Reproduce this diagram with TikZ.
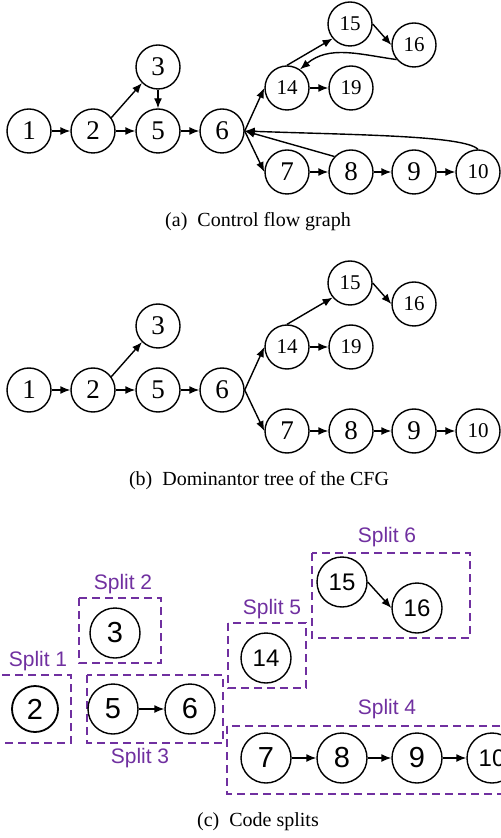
\documentclass[tikz,border=0pt]{standalone}
\usepackage{fontspec}
\setmainfont{Liberation Serif}
\setsansfont{Liberation Sans}
\usetikzlibrary{arrows.meta}
\definecolor{splitpurple}{HTML}{7030A0}
\begin{document}
\begin{tikzpicture}[x=0.5pt,y=-0.5pt,
  vtx/.style={circle,draw,line width=0.7pt,minimum size=22pt,inner sep=0pt,font=\fontsize{13.5}{14}\selectfont},
  vtxs/.style={vtx,font=\fontsize{10.5}{12}\selectfont},
  svtx/.style={circle,draw,line width=0.7pt,minimum size=25pt,inner sep=0pt,font=\sffamily\fontsize{14.5}{16}\selectfont},
  svtxs/.style={svtx,font=\sffamily\fontsize{12}{14}\selectfont},
  arr/.style={-{Latex[length=5pt,width=4pt]},line width=0.7pt},
  splitbox/.style={draw=splitpurple,dash pattern=on 4pt off 2.5pt,line width=0.75pt},
  splitlbl/.style={text=splitpurple,font=\sffamily\fontsize{10.5}{12}\selectfont},
  captext/.style={font=\fontsize{10}{12}\selectfont}
]
\useasboundingbox (0,0) rectangle (500,838);

% ---------- (a) Control flow graph ----------
\node[vtx] (a1) at (29,131) {1};
\node[vtx] (a2) at (93,131) {2};
\node[vtx] (a3) at (158,67) {3};
\node[vtx] (a5) at (158,131) {5};
\node[vtx] (a6) at (222,131) {6};
\node[vtxs] (a14) at (287,88) {14};
\node[vtxs] (a15) at (350,24) {15};
\node[vtxs] (a16) at (414,45) {16};
\node[vtxs] (a19) at (351,88) {19};
\node[vtx] (a7) at (287,172) {7};
\node[vtx] (a8) at (351,172) {8};
\node[vtx] (a9) at (414,172) {9};
\node[vtxs] (a10) at (478,172) {10};

\draw[arr] (a1) -- (a2);
\draw[arr] (a2) -- (a5);
\draw[arr] (a5) -- (a6);
\draw[arr] (a2.36) -- (a3.-135);
\draw[arr] (a3) -- (a5);
\draw[arr] (a6.east) -- (a14.west);
\draw[arr] (a6.east) -- (a7.west);
\draw[arr] (a14.north) -- (a15.-140);
\draw[arr] (a15.east) -- (a16.west);
\draw[arr] (a16.-140) to[out=172,in=40] (a14.55);
\draw[arr] (a14) -- (a19);
\draw[arr] (a7) -- (a8);
\draw[arr] (a8) -- (a9);
\draw[arr] (a9) -- (a10);
\draw[arr] (a8.137) -- (a6.east);
\draw[arr] (a10.north) .. controls +(-14,-14) and +(110,4) .. (a6.east);

\node[captext] (capa) at (258,222) {(a)\ \ Control flow graph};

% ---------- (b) Dominator tree ----------
\node[vtx] (b1) at (29,390) {1};
\node[vtx] (b2) at (93,390) {2};
\node[vtx] (b3) at (158,326) {3};
\node[vtx] (b5) at (158,390) {5};
\node[vtx] (b6) at (222,390) {6};
\node[vtxs] (b14) at (287,347) {14};
\node[vtxs] (b15) at (350,283) {15};
\node[vtxs] (b16) at (414,304) {16};
\node[vtxs] (b19) at (351,347) {19};
\node[vtx] (b7) at (287,431) {7};
\node[vtx] (b8) at (351,431) {8};
\node[vtx] (b9) at (414,431) {9};
\node[vtxs] (b10) at (478,431) {10};

\draw[arr] (b1) -- (b2);
\draw[arr] (b2) -- (b5);
\draw[arr] (b5) -- (b6);
\draw[arr] (b2.36) -- (b3.-135);
\draw[arr] (b6.east) -- (b14.west);
\draw[arr] (b6.east) -- (b7.west);
\draw[arr] (b14.north) -- (b15.-140);
\draw[arr] (b15.east) -- (b16.west);
\draw[arr] (b14) -- (b19);
\draw[arr] (b7) -- (b8);
\draw[arr] (b8) -- (b9);
\draw[arr] (b9) -- (b10);

\node[captext] (capb) at (259,481) {(b)\ \ Dominantor tree of the CFG};

% ---------- (c) Code splits ----------
\draw[splitbox] (-5,675) rectangle (71,743);
\node[splitlbl] (l1) at (38,661) {Split 1};
\node[svtx,line width=0.9pt,minimum size=23pt] (c2) at (35,709) {2};

\draw[splitbox] (79,598) rectangle (161,663);
\node[splitlbl] (l2) at (123,584) {Split 2};
\node[svtx] (c3) at (115,633) {3};

\draw[splitbox] (87,675) rectangle (223,743);
\node[splitlbl] (l3) at (140,758) {Split 3};
\node[svtx] (c5) at (113,709) {5};
\node[svtx] (c6) at (190,709) {6};
\draw[arr] (c5) -- (c6);

\draw[splitbox] (228,623) rectangle (306,688);
\node[splitlbl] (l5) at (272,609) {Split 5};
\node[svtxs] (c14) at (266,658) {14};

\draw[splitbox] (312,553) rectangle (470,638);
\node[splitlbl] (l6) at (387,537) {Split 6};
\node[svtxs] (c15) at (342,582) {15};
\node[svtxs] (c16) at (417,608) {16};
\draw[arr] (c15.east) -- (c16.west);

\draw[splitbox] (227,726) rectangle (510,794);
\node[splitlbl] (l4) at (387,709) {Split 4};
\node[svtx] (c7) at (266,758) {7};
\node[svtx] (c8) at (342,758) {8};
\node[svtx] (c9) at (417,758) {9};
\node[svtxs] (c10) at (492,758) {10};
\draw[arr] (c7) -- (c8);
\draw[arr] (c8) -- (c9);
\draw[arr] (c9) -- (c10);

\node[captext] (capc) at (258,822) {(c)\ \ Code splits};
\end{tikzpicture}
\end{document}
